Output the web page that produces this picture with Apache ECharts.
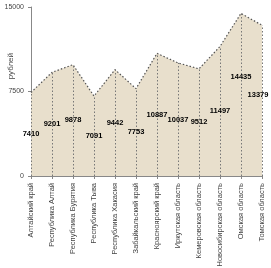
<!DOCTYPE html>
<html><head><meta charset="utf-8">
<script src="https://cdn.jsdelivr.net/npm/echarts@6/dist/echarts.min.js"></script>
<style>html,body{margin:0;padding:0;background:#fff}#c{width:271px;height:268px}</style>
</head><body><div id="c"></div>
<script>
var categories = ['Алтайский край','Республика Алтай','Республика Бурятия','Республика Тыва','Республика Хакасия','Забайкальский край','Красноярский край','Иркутская область','Кемеровская область','Новосибирская область','Омская область','Томская область'];
var values = [7410, 9201, 9878, 7091, 9442, 7753, 10887, 10037, 9512, 11497, 14435, 13379];
var yTicks = [0, 7500, 15000];
var yName = 'рублей';

var FONT = '"Liberation Sans", Arial';
var labelOffsets = {10: [0, -18], 11: [-4, -6]};
var chart = echarts.init(document.getElementById('c'));
var drop = values.map(function(v, i){ return [{coord:[i, 0]}, {coord:[i, v]}]; });
chart.setOption({
  animation: false,
  grid: {left: 31, right: 9, top: 7, bottom: 92, outerBoundsMode: 'none', containLabel: false},
  graphic: [{
    type: 'text', left: 7, top: 53, rotation: Math.PI / 2,
    style: {text: yName, fontSize: 8, fill: '#444', fontFamily: FONT}
  }],
  xAxis: {
    type: 'category', data: categories, boundaryGap: false,
    axisLine: {lineStyle: {color: '#888', width: 1}},
    axisTick: {show: true, alignWithLabel: true, length: 3, lineStyle: {color: '#888'}},
    axisLabel: {rotate: 90, interval: 0, fontSize: 7.5, color: '#444', fontFamily: FONT, margin: 7}
  },
  yAxis: {
    type: 'value', min: 0, max: 15000, interval: 7500,
    splitLine: {show: false},
    axisLine: {show: true, lineStyle: {color: '#888', width: 1}},
    axisTick: {show: true, length: 3, lineStyle: {color: '#888'}},
    axisLabel: {fontSize: 7, color: '#444', fontFamily: FONT, margin: 7,
      formatter: function(v){ return yTicks.indexOf(v) >= 0 ? String(v) : ''; }}
  },
  series: [{
    type: 'line', data: values, symbol: 'none',
    lineStyle: {color: '#555', width: 1.2, type: [1.5, 2]},
    areaStyle: {color: '#e8dfcc', opacity: 1},
    markLine: {silent: true, symbol: 'none', label: {show: false},
      lineStyle: {color: '#777', width: 1, type: [1.5, 2]}, data: drop}
  }, {
    type: 'bar', barWidth: 2, z: 5,
    itemStyle: {color: 'rgba(0,0,0,0)'},
    data: values.map(function(v, i){
      var o = labelOffsets[i] || [0, 0];
      return {value: v, label: {offset: o}};
    }),
    label: {show: true, position: 'inside', color: '#000', fontWeight: 'bold', fontSize: 7.5, fontFamily: FONT}
  }]
});
</script></body></html>
